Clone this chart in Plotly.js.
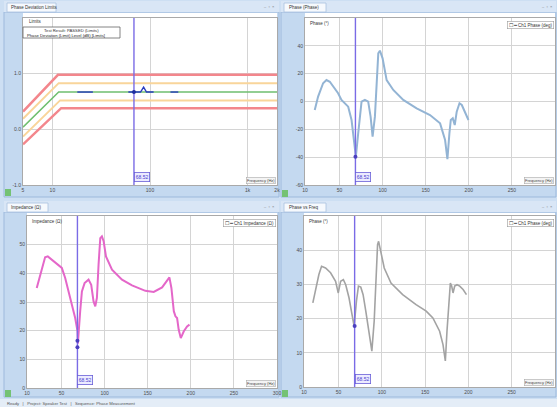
<!DOCTYPE html>
<html><head><meta charset="utf-8">
<script src="https://cdn.plot.ly/plotly-3.0.1.min.js"></script>
<style>html,body{margin:0;padding:0;background:#cddff3;overflow:hidden}#chart{width:557px;height:407px}</style>
</head><body><div id="chart"></div>
<script>
// ---------------- DATA ----------------
const cursorHz = 68.5;
const cursorText = "68.52";

// Panel 1 : phase deviation limits (Hz, dB)
const p1TickVals = [5, 10, 100, 1000, 2000];
const p1TickText = ["5", "10", "100", "1k", "2k"];
const limRedHiX = [5, 11.4, 2000],  limRedHiY = [0.32, 0.98, 0.98];
const limOrgHiX = [5, 11.6, 2000],  limOrgHiY = [0.19, 0.83, 0.83];
const limGrnX   = [5, 11.6, 2000],  limGrnY   = [0.04, 0.67, 0.67];
const limOrgLoX = [5, 12.0, 2000],  limOrgLoY = [-0.13, 0.52, 0.52];
const limRedLoX = [5, 12.3, 2000],  limRedLoY = [-0.27, 0.38, 0.38];
const devX = [18, 26, null, 60, 68, 80, 86, 92, 109, null, 162, 195];
const devY = [0.67, 0.67, null, 0.67, 0.67, 0.67, 0.76, 0.67, 0.67, null, 0.67, 0.67];
const p1CursorY = 0.67;

// shared frequency ticks for panels 2-4
const fTickVals = [10, 50, 100, 150, 200, 250, 300];
const fTickText = ["10", "50", "100", "150", "200", "250", "300"];

// Panel 2 : phase (deg)
const p2X = [21.3,25.2,31.0,34.9,38.8,48.4,52.3,60.1,64.0,66.7,69.0,71.7,75.6,79.5,83.3,86.1,88.4,91.1,93.0,95.0,96.9,100.0,104.7,112.4,124.0,139.5,155.0,166.7,172.5,175.2,177.5,179.1,181.4,183.7,186.0,189.2,191.9,195.7,199.6];
const p2Y = [-6.1,3.5,13.1,15.4,14.2,5.9,1.1,-3.7,-13.3,-27.7,-39.7,-22.9,-0.1,1.1,-0.1,-10.9,-25.3,-10.9,13.1,34.6,36.5,31.0,15.4,8.3,1.1,-4.9,-9.7,-15.7,-27.7,-41.5,-22.9,-13.3,-12.1,-16.9,-7.3,-1.3,-2.5,-8.5,-13.3];
const p2CursorY = -39.7;

// Panel 3 : impedance (ohm)
const p3X = [21.3,25.2,31.0,34.1,38.8,46.5,50.4,54.3,60.1,65.9,68.6,69.0,71.7,73.7,76.8,81.4,84.5,87.2,89.2,91.1,93.0,95.0,96.9,98.9,101.6,108.6,120.2,131.8,147.3,157.0,166.7,172.5,175.2,177.5,180.3,182.2,184.1,186.0,188.4,191.9,195.7,198.5];
const p3Y = [34.9,39.5,45.6,45.9,44.8,43.0,41.9,38.4,31.4,24.4,19.8,15.5,26.8,33.7,36.6,37.8,36.0,30.2,28.5,31.4,43.0,52.3,52.9,51.2,45.9,41.3,37.8,35.8,33.9,33.5,35.1,37.4,38.6,34.9,26.8,25.0,24.4,20.3,17.4,19.8,21.5,22.1];
const p3CursorY = [16.5, 14.2];

// Panel 4 : phase (deg)
const p4X = [20.2,23.3,27.2,30.3,34.9,40.7,46.5,49.6,52.3,55.5,58.2,62.0,65.9,67.9,70.6,72.9,75.6,78.3,81.4,85.3,88.4,91.1,93.0,95.0,96.2,98.9,102.7,110.5,124.0,139.5,151.2,158.9,166.7,170.6,173.3,175.2,177.5,179.1,180.6,182.2,184.1,186.8,189.9,193.8,197.7];
const p4Y = [24.6,28.0,32.9,35.3,34.8,33.4,30.9,27.5,30.9,31.4,29.9,26.1,21.2,17.8,25.1,29.5,29.2,27.0,22.2,16.3,10.5,19.3,32.9,41.6,42.6,39.7,34.8,30.4,27.0,24.1,22.2,20.2,16.3,12.4,7.6,16.3,25.1,30.4,29.5,27.5,29.5,29.9,29.5,28.5,27.0];
const p4CursorY = 17.8;

// ---------------- LAYOUT HELPERS ----------------
const W = 557, H = 407;
const px = x => x / W, py = y => 1 - y / H;
const FONT = 'Liberation Sans, Arial, sans-serif';
const CUR = '#7a6be6';

const common = {showgrid:true, gridcolor:'#d4d4d4', gridwidth:1, zeroline:false, showline:true,
  linecolor:'#a9a9a9', linewidth:1, mirror:true, ticks:'', fixedrange:true,
  tickfont:{size:5, color:'#4d4d4d', family:FONT}};

function line(x, y, xa, ya, color, width) {
  return {type:'scatter', mode:'lines', x:x, y:y, xaxis:xa, yaxis:ya, hoverinfo:'skip',
          line:{color:color, width:width}, connectgaps:false};
}
function cursor(xa, ya, y0, y1) {
  return line([cursorHz, cursorHz], [y0, y1], xa, ya, CUR, 1.4);
}
function dot(xs, ys, xa, ya, color) {
  return {type:'scatter', mode:'markers', x:xs, y:ys, xaxis:xa, yaxis:ya, hoverinfo:'skip',
          marker:{color:color, size:4}};
}

const traces = [
  line(limRedHiX, limRedHiY, 'x', 'y', '#f3868c', 2.5),
  line(limOrgHiX, limOrgHiY, 'x', 'y', '#f9d59a', 2),
  line(limOrgLoX, limOrgLoY, 'x', 'y', '#f9d59a', 2),
  line(limRedLoX, limRedLoY, 'x', 'y', '#f3868c', 2.5),
  line(limGrnX, limGrnY, 'x', 'y', '#6fbf6f', 1.5),
  line(devX, devY, 'x', 'y', '#2a3cc0', 1.4),
  cursor('x', 'y', -1, 2),
  dot([cursorHz], [p1CursorY], 'x', 'y', '#1f2f9f'),

  line(p2X, p2Y, 'x2', 'y2', '#93b4d4', 2),
  cursor('x2', 'y2', -60, 60),
  dot([cursorHz], [p2CursorY], 'x2', 'y2', '#4b3fbf'),

  line(p3X, p3Y, 'x3', 'y3', '#e467c9', 2),
  cursor('x3', 'y3', 0, 60),
  dot([cursorHz, cursorHz], p3CursorY, 'x3', 'y3', '#4b3fbf'),

  line(p4X, p4Y, 'x4', 'y4', '#a3a3a3', 1.6),
  cursor('x4', 'y4', 0, 50),
  dot([cursorHz], [p4CursorY], 'x4', 'y4', '#4b3fbf')
];

function rect(x0, y0, x1, y1, fill, lc, lw) {
  return {type:'rect', xref:'paper', yref:'paper', x0:px(x0), x1:px(x1), y0:py(y1), y1:py(y0),
          fillcolor:fill, line:{color:lc || fill, width:lw === undefined ? 0 : lw}, layer:'below'};
}
function plotBg(xa, ya) {
  return {type:'rect', xref:xa + ' domain', yref:ya + ' domain', x0:0, x1:1, y0:0, y1:1,
          fillcolor:'#ffffff', line:{width:0}, layer:'below'};
}

const shapes = [
  rect(0, 399, 557, 407, '#e4edf7'),
  // panel frames
  rect(4, 12, 279, 197, '#c4d9f0', '#9db9dc', 1),
  rect(281, 12, 556, 197, '#c4d9f0', '#9db9dc', 1),
  rect(4, 212, 279, 397, '#c4d9f0', '#9db9dc', 1),
  rect(281, 212, 556, 397, '#c4d9f0', '#9db9dc', 1),
  // tab bars
  rect(4, 1, 279, 12, '#d9e6f6'), rect(281, 1, 556, 12, '#d9e6f6'),
  rect(4, 201, 279, 212, '#d9e6f6'), rect(281, 201, 556, 212, '#d9e6f6'),
  rect(7, 3, 56, 12, '#f6f9fd', '#a9c2df', 0.8), rect(284, 3, 326, 12, '#f6f9fd', '#a9c2df', 0.8),
  rect(7, 203, 48, 212, '#f6f9fd', '#a9c2df', 0.8), rect(284, 203, 326, 212, '#f6f9fd', '#a9c2df', 0.8),
  // white strips above plots
  rect(23, 13, 277, 18, '#ffffff'), rect(305, 13, 555, 18, '#ffffff'),
  rect(27, 213, 277, 216, '#ffffff'), rect(304, 213, 555, 216, '#ffffff'),
  // green status icons
  rect(5, 189, 11, 196, '#74c274'), rect(282, 190, 288, 197, '#74c274'),
  rect(5, 390, 11, 397, '#74c274'), rect(282, 390, 288, 397, '#74c274'),
  // plot backgrounds
  plotBg('x', 'y'), plotBg('x2', 'y2'), plotBg('x3', 'y3'), plotBg('x4', 'y4'),
  // limit legend box
  {type:'rect', xref:'paper', yref:'paper', x0:px(23), x1:px(120), y0:py(38), y1:py(27),
   fillcolor:'#ffffff', line:{color:'#666', width:0.8}, layer:'above'},
];

function note(text, x, y, o) {
  return Object.assign({text:text, xref:'paper', yref:'paper', x:px(x), y:py(y), showarrow:false,
    xanchor:'left', yanchor:'middle', font:{size:4.5, color:'#333', family:FONT}}, o || {});
}
function curLabel(xa, ya, xval) {
  return {text:cursorText, xref:xa, yref:ya + ' domain', x:xval, y:0.015, xanchor:'left', yanchor:'bottom',
    showarrow:false, bgcolor:'#ecebff', bordercolor:'#6a5fd8', borderwidth:0.8, borderpad:1,
    font:{size:5, color:'#4b3fcf', family:FONT}};
}
function legendBox(text, xa, ya) {
  return {text:text, xref:xa + ' domain', yref:ya + ' domain', x:0.995, y:0.985, xanchor:'right', yanchor:'top',
    showarrow:false, bgcolor:'#ffffff', bordercolor:'#999', borderwidth:0.6, borderpad:1,
    font:{size:4.5, color:'#333', family:FONT}};
}
function freqBox(xa, ya) {
  return {text:'Frequency (Hz)', xref:xa + ' domain', yref:ya + ' domain', x:0.995, y:0.005, xanchor:'right', yanchor:'bottom',
    showarrow:false, bgcolor:'#f4f4f4', bordercolor:'#aaa', borderwidth:0.6, borderpad:0.5,
    font:{size:4, color:'#444', family:FONT}};
}
function ytitle(text, xa, ya) {
  return {text:text, xref:xa + ' domain', yref:ya + ' domain', x:0.01, y:0.995, xanchor:'left', yanchor:'top',
    showarrow:false, font:{size:4.5, color:'#333', family:FONT}};
}

const annotations = [
  note('Phase Deviation Limits', 9, 7.5),
  note('Phase (Phase)', 287, 7.5),
  note('Impedance (Ω)', 9, 207.5),
  note('Phase vs Freq', 287, 207.5),
  note('–  ▫  ×', 277, 6, {xanchor:'right', font:{size:4, color:'#777', family:FONT}}),
  note('–  ▫  ×', 555, 6, {xanchor:'right', font:{size:4, color:'#777', family:FONT}}),
  note('–  ▫  ×', 277, 206, {xanchor:'right', font:{size:4, color:'#777', family:FONT}}),
  note('–  ▫  ×', 555, 206, {xanchor:'right', font:{size:4, color:'#777', family:FONT}}),
  note('Limits', 27, 21.5),
  note('Test Result: PASSED (Limits)', 71, 30.3, {xanchor:'center', font:{size:4.2, color:'#333', family:FONT}}),
  note('Phase Deviation (Limit) Level (dB) [Limits]', 24.5, 35.2, {font:{size:4.2, color:'#222', family:FONT}}),
  ytitle('Phase (°)', 'x2', 'y2'),
  ytitle('Impedance (Ω)', 'x3', 'y3'),
  ytitle('Phase (°)', 'x4', 'y4'),
  legendBox('☐ ━ Ch1 Phase (deg)', 'x2', 'y2'),
  legendBox('☐ ━ Ch1 Impedance (Ω)', 'x3', 'y3'),
  legendBox('☐ ━ Ch1 Phase (deg)', 'x4', 'y4'),
  freqBox('x', 'y'), freqBox('x2', 'y2'), freqBox('x3', 'y3'), freqBox('x4', 'y4'),
  curLabel('x', 'y', Math.log10(cursorHz)),
  curLabel('x2', 'y2', cursorHz),
  curLabel('x3', 'y3', cursorHz),
  curLabel('x4', 'y4', cursorHz),
  note('Ready   |   Project: Speaker Test   |   Sequence: Phase Measurement', 5, 403.5, {font:{size:4.2, color:'#555', family:FONT}})
];

const layout = {
  width: W, height: H, margin:{l:0, r:0, t:0, b:0, pad:0},
  paper_bgcolor:'#cddff3', plot_bgcolor:'#ffffff', showlegend:false,
  font:{family:FONT, size:5, color:'#333'},
  xaxis: Object.assign({}, common, {domain:[px(23), px(277)], anchor:'y', type:'log',
          range:[Math.log10(5), Math.log10(2000)], tickvals:p1TickVals, ticktext:p1TickText}),
  yaxis: Object.assign({}, common, {domain:[py(185), py(18)], anchor:'x', range:[-1, 2],
          tickvals:[-1, 0, 1], ticktext:['-1.0', '0.0', '1.0']}),
  xaxis2: Object.assign({}, common, {domain:[px(305), px(555)], anchor:'y2', range:[10, 300],
          tickvals:fTickVals, ticktext:fTickText}),
  yaxis2: Object.assign({}, common, {domain:[py(185), py(18)], anchor:'x2', range:[-60, 60],
          tickvals:[-60, -40, -20, 0, 20, 40, 60], ticktext:['-60', '-40', '-20', '0', '20', '40', '']}),
  xaxis3: Object.assign({}, common, {domain:[px(27), px(277)], anchor:'y3', range:[10, 300],
          tickvals:fTickVals, ticktext:fTickText}),
  yaxis3: Object.assign({}, common, {domain:[py(388), py(216)], anchor:'x3', range:[0, 60],
          tickvals:[0, 10, 20, 30, 40, 50, 60], ticktext:['0', '10', '20', '30', '40', '50', '']}),
  xaxis4: Object.assign({}, common, {domain:[px(304), px(555)], anchor:'y4', range:[10, 300],
          tickvals:fTickVals, ticktext:fTickText}),
  yaxis4: Object.assign({}, common, {domain:[py(387), py(216)], anchor:'x4', range:[0, 50],
          tickvals:[0, 10, 20, 30, 40, 50], ticktext:['0', '10', '20', '30', '40', '']}),
  shapes: shapes,
  annotations: annotations
};

Plotly.newPlot('chart', traces, layout, {staticPlot:true, displayModeBar:false});
</script>
</body></html>
